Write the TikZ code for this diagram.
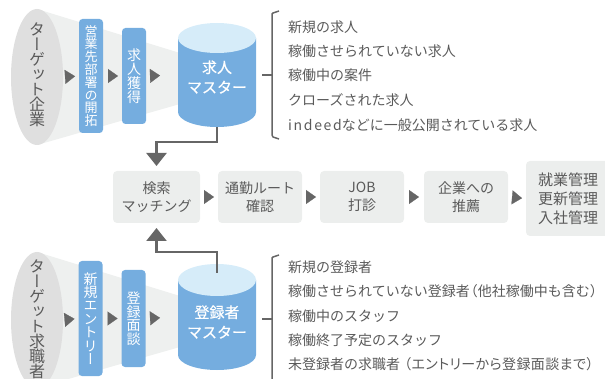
\documentclass[tikz,border=0pt]{standalone}
\usepackage{fontspec}
\setmainfont{Noto Sans CJK JP}
\newfontfamily\cjkv[RawFeature={+vert}]{Noto Sans CJK JP}
\newfontfamily\cjkm[FakeBold=0.5]{Noto Sans CJK JP}
\usetikzlibrary{arrows.meta,shapes.geometric}
\definecolor{txt}{HTML}{5A5A5A}
\definecolor{boxg}{HTML}{ECEEED}
\definecolor{ellg}{HTML}{DFDFDF}
\definecolor{funnelg}{HTML}{EEF0EF}
\definecolor{barb}{HTML}{75ADDF}
\definecolor{topb}{HTML}{D6ECF9}
\definecolor{lineg}{HTML}{666666}
\tikzset{
  ell/.style={ellipse,fill=ellg,minimum width=52pt,minimum height=136pt,inner sep=0pt,outer sep=0pt},
  vlabel/.style={align=center,text=txt,inner sep=0pt,font=\cjkv\fontsize{16}{15}\selectfont},
  barbox/.style={rounded corners=3.5pt,fill=barb,text=white,inner sep=0pt,outer sep=0pt,minimum width=24pt,align=center},
  cylbox/.style={minimum width=78pt,inner sep=0pt,outer sep=0pt},
  cyllabel/.style={text=white,align=center,inner sep=0pt,font=\cjkm\fontsize{15}{20}\selectfont},
  procbox/.style={rounded corners=4pt,fill=boxg,text=txt,inner sep=0pt,outer sep=0pt,align=center,font=\fontsize{14}{18}\selectfont},
  listitem/.style={anchor=west,text=txt,inner sep=0pt,font=\fontsize{14}{16}\selectfont},
  tri/.style={draw=lineg,line width=0.2pt,-{Triangle[width=14pt,length=10pt,color=lineg]}},
  flow/.style={draw=lineg,line width=2.4pt,-{Triangle[width=20pt,length=13pt,color=lineg]},shorten >=5pt},
  brace/.style={draw=lineg,line width=1.5pt,line join=round}
}
\begin{document}
\begin{tikzpicture}[x=1pt,y=-1pt]
\useasboundingbox (0,0) rectangle (605,379);
% --- upper funnel
\fill[funnelg] (37,9) -- (180,53) -- (180,104) -- (37,145) -- cycle;
\node[ell] (t1) at (37,77) {};
\node[vlabel] (t1l) at (37,75) {タ\\ー\\ゲ\\ッ\\ト\\企\\業};
\node[barbox,minimum height=114pt,font=\cjkv\fontsize{13}{12.8}\selectfont] (b1) at (91,76) {営\\業\\先\\部\\署\\の\\開\\拓};
\node[barbox,minimum height=96pt,font=\cjkv\fontsize{14}{14}\selectfont] (b2) at (134,76) {求\\人\\獲\\得};
\fill[barb] (178,38) -- (178,112) arc[start angle=180,end angle=0,x radius=39,y radius=15] -- (256,38) -- cycle;
\fill[topb] (217,38) ellipse[x radius=39,y radius=15];
\node[cylbox,minimum height=104pt] (jm) at (217,75) {};
\node[cyllabel] (jml) at (217,77) {求人\\マスター};
\draw[tri,shorten <=2pt,shorten >=4pt] (t1.east) -- (b1.west);
\draw[tri,shorten <=5pt,shorten >=4pt] (b1.east) -- (b2.west);
\draw[tri,shorten <=5pt,shorten >=18pt] (b2.east) -- (jm.west);
% --- process row
\node[procbox,minimum width=87pt,minimum height=52pt] (p1) at (156.5,197) {検索\\マッチング};
\node[procbox,minimum width=84pt,minimum height=52pt] (p2) at (260,197) {通勤ルート\\確認};
\node[procbox,minimum width=84pt,minimum height=52pt] (p3) at (362,197) {JOB\\打診};
\node[procbox,minimum width=84pt,minimum height=52pt] (p4) at (466,197) {企業への\\推薦};
\node[procbox,minimum width=84pt,minimum height=75pt,font=\fontsize{15}{19}\selectfont] (p5) at (568,198.5) {就業管理\\更新管理\\入社管理};
\draw[tri,shorten <=4pt,shorten >=4pt] (p1.east) -- (p2.west);
\draw[tri,shorten <=4pt,shorten >=4pt] (p2.east) -- (p3.west);
\draw[tri,shorten <=5pt,shorten >=5pt] (p3.east) -- (p4.west);
\draw[tri,shorten <=4pt,shorten >=4pt] (p4.east) -- (p5.west);
\draw[flow] (jm.south) -- ++(0,15) -| (p1.north);
% --- lower funnel
\fill[funnelg] (37,252) -- (180,296) -- (180,347) -- (37,388) -- cycle;
\node[ell] (t2) at (37,320) {};
\node[vlabel] (t2l) at (37,319) {タ\\ー\\ゲ\\ッ\\ト\\求\\職\\者};
\node[barbox,minimum height=115pt,font=\cjkv\fontsize{14}{13.4}\selectfont] (b3) at (90.5,318.5) {新\\規\\エ\\ン\\ト\\リ\\ー};
\node[barbox,minimum height=97pt,font=\cjkv\fontsize{14}{13.6}\selectfont] (b4) at (133.5,318.5) {登\\録\\面\\談};
\fill[barb] (178,280) -- (178,355) arc[start angle=180,end angle=0,x radius=39,y radius=15] -- (256,280) -- cycle;
\fill[topb] (217,280) ellipse[x radius=39,y radius=16];
\node[cylbox,minimum height=106pt] (rm) at (217,317) {};
\node[cyllabel] (rml) at (217,322) {登録者\\マスター};
\coordinate (rmtop) at (217,273);
\draw[tri,shorten <=2pt,shorten >=4pt] (t2.east) -- (b3.west);
\draw[tri,shorten <=5pt,shorten >=4pt] (b3.east) -- (b4.west);
\draw[tri,shorten <=5pt,shorten >=18pt] (b4.east) -- (rm.west);
\draw[flow] (rmtop) -- ++(0,-21) -| (p1.south);
% --- upper list
\node[listitem] (a1) at (288,27) {新規の求人};
\node[listitem] (a2) at (288,51) {稼働させられていない求人};
\node[listitem] (a3) at (288,75.5) {稼働中の案件};
\node[listitem] (a4) at (288,100) {クローズされた求人};
\node[listitem] (a5) at (288,125) {{\addfontfeature{LetterSpace=12}indeed}などに一般公開されている求人};
\draw[brace] (279,11) -- (273,13) -- (272,14) -- (272,135) -- (273,137) -- (279,139);
\draw[brace] (262,75) -- (272,75);
% --- lower list
\node[listitem] (c1) at (288,267) {新規の登録者};
\node[listitem] (c2) at (288,291.5) {稼働させられていない登録者\kern-6pt（他社稼働中も含む）};
\node[listitem] (c3) at (288,316) {稼働中のスタッフ};
\node[listitem] (c4) at (288,340) {稼働終了予定のスタッフ};
\node[listitem] (c5) at (288,364.5) {未登録者の求職者\kern4pt{\addfontfeature{RawFeature=+palt,LetterSpace=3}（エントリーから登録面談まで）}};
\draw[brace] (279,255) -- (273,257) -- (272,258) -- (272,381);
\draw[brace] (262,319) -- (272,319);
\end{tikzpicture}
\end{document}
